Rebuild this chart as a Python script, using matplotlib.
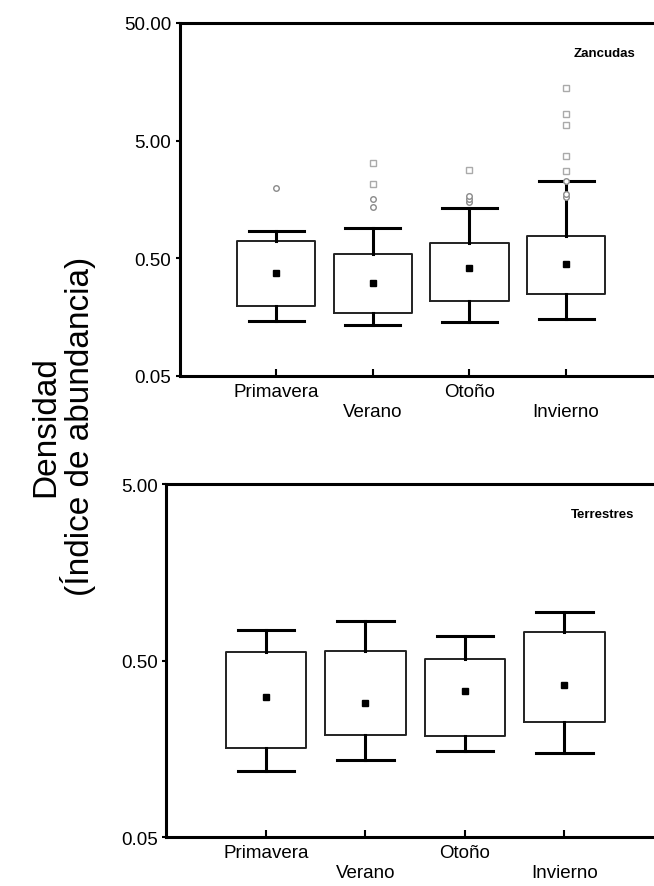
import numpy as np
import matplotlib
matplotlib.use("Agg")
import matplotlib.pyplot as plt

plt.rcParams['font.family'] = ['Liberation Sans', 'DejaVu Sans']

seasons = ["Primavera", "Verano", "Otoño", "Invierno"]

# Zancudas (top panel)
z_mean = [0.375, 0.31, 0.416, 0.45]
z_q1 = [0.198, 0.172, 0.218, 0.25]
z_q3 = [0.70, 0.54, 0.678, 0.773]
z_lo = [0.146, 0.136, 0.143, 0.151]
z_hi = [0.857, 0.90, 1.35, 2.28]
z_outliers = [[1.98], [1.36, 1.59], [1.51, 1.59, 1.70], [1.65, 1.76, 2.28]]
z_extremes = [[], [2.14, 3.2], [2.83], [2.74, 3.67, 6.73, 8.45, 13.9]]

# Terrestres (bottom panel)
t_mean = [0.31, 0.288, 0.337, 0.365]
t_q1 = [0.16, 0.19, 0.186, 0.225]
t_q3 = [0.558, 0.565, 0.513, 0.727]
t_lo = [0.119, 0.137, 0.153, 0.15]
t_hi = [0.747, 0.836, 0.69, 0.941]


def panel(ax, mean, q1, q3, lo, hi, yticks, xmax, title, outl=None, extr=None):
    stats = []
    for i in range(len(seasons)):
        stats.append(dict(med=mean[i], mean=mean[i], q1=q1[i], q3=q3[i],
                          whislo=lo[i], whishi=hi[i], fliers=[]))
    pos = np.arange(1, len(seasons) + 1)
    ax.bxp(stats, positions=pos, widths=0.81, capwidths=0.57, showmeans=True,
           showfliers=False,
           boxprops=dict(color='#222222', linewidth=1.4),
           whiskerprops=dict(color='black', linewidth=2.2),
           capprops=dict(color='black', linewidth=2.2),
           medianprops=dict(linestyle='none'),
           meanprops=dict(marker='s', markerfacecolor='black',
                          markeredgecolor='black', markersize=4))
    # valores atipicos (circulos) y extremos (cuadrados)
    if outl is not None:
        for i, v in enumerate(outl):
            ax.plot(np.full(len(v), pos[i]), v, 'o', mfc='white', mec='#8a8a8a',
                    ms=4, mew=1, zorder=5)
    if extr is not None:
        for i, v in enumerate(extr):
            ax.plot(np.full(len(v), pos[i]), v, 's', mfc='white', mec='#aaaaaa',
                    ms=4, mew=1, zorder=5)
    ax.set_yscale('log')
    ax.set_ylim(yticks[0], yticks[-1])
    ax.set_xlim(0, xmax)
    ax.set_yticks(yticks)
    ax.set_yticklabels(["%.2f" % t for t in yticks])
    ax.minorticks_off()
    ax.set_xticks(pos)
    ax.set_xticklabels([s if i % 2 == 0 else "\n" + s for i, s in enumerate(seasons)])
    ax.tick_params(axis='x', direction='in', length=5, width=1.5, pad=5,
                   labelsize=13.5)
    ax.tick_params(axis='y', direction='out', length=3, width=1.5, pad=3,
                   labelsize=13.5)
    for s in ['left', 'top', 'bottom']:
        ax.spines[s].set_linewidth(2.2)
    ax.spines['right'].set_visible(False)
    ax.text(0.895, 0.915, title, transform=ax.transAxes, ha='center',
            va='center', fontsize=9.5, fontweight='bold')


fig = plt.figure(figsize=(6.54, 8.87), dpi=100)
ax1 = fig.add_axes([0.2745, 0.575, 0.7255, 0.398])
ax2 = fig.add_axes([0.2544, 0.0552, 0.7456, 0.398])

panel(ax1, z_mean, z_q1, z_q3, z_lo, z_hi, [0.05, 0.5, 5, 50], 4.91,
      "Zancudas", z_outliers, z_extremes)
panel(ax2, t_mean, t_q1, t_q3, t_lo, t_hi, [0.05, 0.5, 5], 4.90, "Terrestres")

fig.text(0.097, 0.519, "Densidad\n(Índice de abundancia)", rotation=90,
         ha='center', va='center', fontsize=24, linespacing=0.95,
         multialignment='center')

fig.savefig("out.png", dpi=100)
